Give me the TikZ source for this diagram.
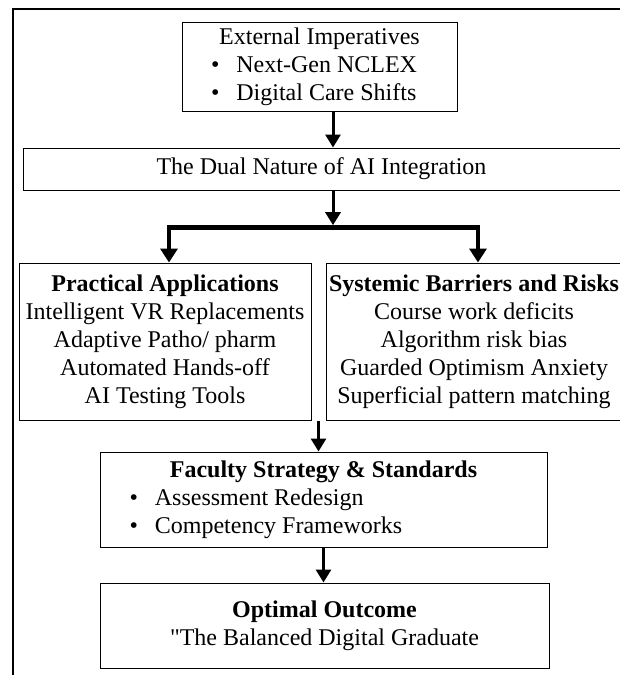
\documentclass[tikz,border=0pt]{standalone}
\usepackage{fontspec}
\setmainfont{Liberation Serif}[Ligatures=TeXOff]
\usetikzlibrary{arrows.meta,calc}

\begin{document}
\begin{tikzpicture}[x=1pt, y=-1pt,
    every node/.style={font=\fontsize{24}{28}\selectfont, inner sep=0pt},
    box/.style={draw, line width=1pt, align=center},
    arr/.style={line width=3pt, -{Triangle[length=13pt,width=15pt]}},
    fork/.style={line width=4.5pt, {Triangle[length=14pt,width=17pt]}-{Triangle[length=14pt,width=17pt]}}]
    \useasboundingbox (0,0) rectangle (620,675);
    \draw[line width=1.2pt] (13,9) rectangle (640,700);
    \node (ext) at (319.5,66.5) [box, minimum width=275pt, minimum height=89pt] {External Imperatives\\
      \makebox[217pt][l]{\textbullet\hspace{17pt}Next-Gen NCLEX}\\
      \makebox[217pt][l]{\textbullet\hspace{17pt}Digital Care Shifts}};
    \node (dual) at (321.5,169) [box, minimum width=597pt, minimum height=42pt] {The Dual Nature of AI Integration};
    \node (prac) at (165,341.5) [box, minimum width=292pt, minimum height=157pt] {\textbf{Practical Applications}\\
      Intelligent VR Replacements\\ Adaptive Patho/ pharm\\ Automated Hands-off\\ AI Testing Tools};
    \node (risk) at (474,341.5) [box, minimum width=296pt, minimum height=157pt] {\textbf{Systemic Barriers and Risks}\\
      Course work deficits\\ Algorithm risk bias\\ Guarded Optimism Anxiety\\ Superficial pattern matching};
    \node (fac) at (323.5,499.5) [box, minimum width=447pt, minimum height=95pt] {\textbf{Faculty Strategy \& Standards}\\
      \makebox[388pt][l]{\textbullet\hspace{17pt}Assessment Redesign}\\
      \makebox[388pt][l]{\textbullet\hspace{17pt}Competency Frameworks}};
    \node (outc) at (324.5,625.5) [box, minimum width=449pt, minimum height=85pt] {\textbf{Optimal Outcome}\\
      "The Balanced Digital Graduate};
    \coordinate (fl) at (169,227.5);
    \coordinate (fr) at (478,227.5);
    \coordinate (fm) at (333,225.2);
    \coordinate (gap) at ($(prac.south east)!0.5!(risk.south west)$);
    \draw[arr] ([xshift=13.5pt]ext.south) -- ([xshift=13.5pt]ext.south |- dual.north);
    \draw[arr] (dual.south -| fm) -- (fm);
    \draw[fork] (fl |- prac.north) -- (fl) -- (fr) -- (fr |- risk.north);
    \draw[arr] (gap) -- (gap |- fac.north);
    \draw[arr] (fac.south) -- (fac.south |- outc.north);
  \end{tikzpicture}
\end{document}
